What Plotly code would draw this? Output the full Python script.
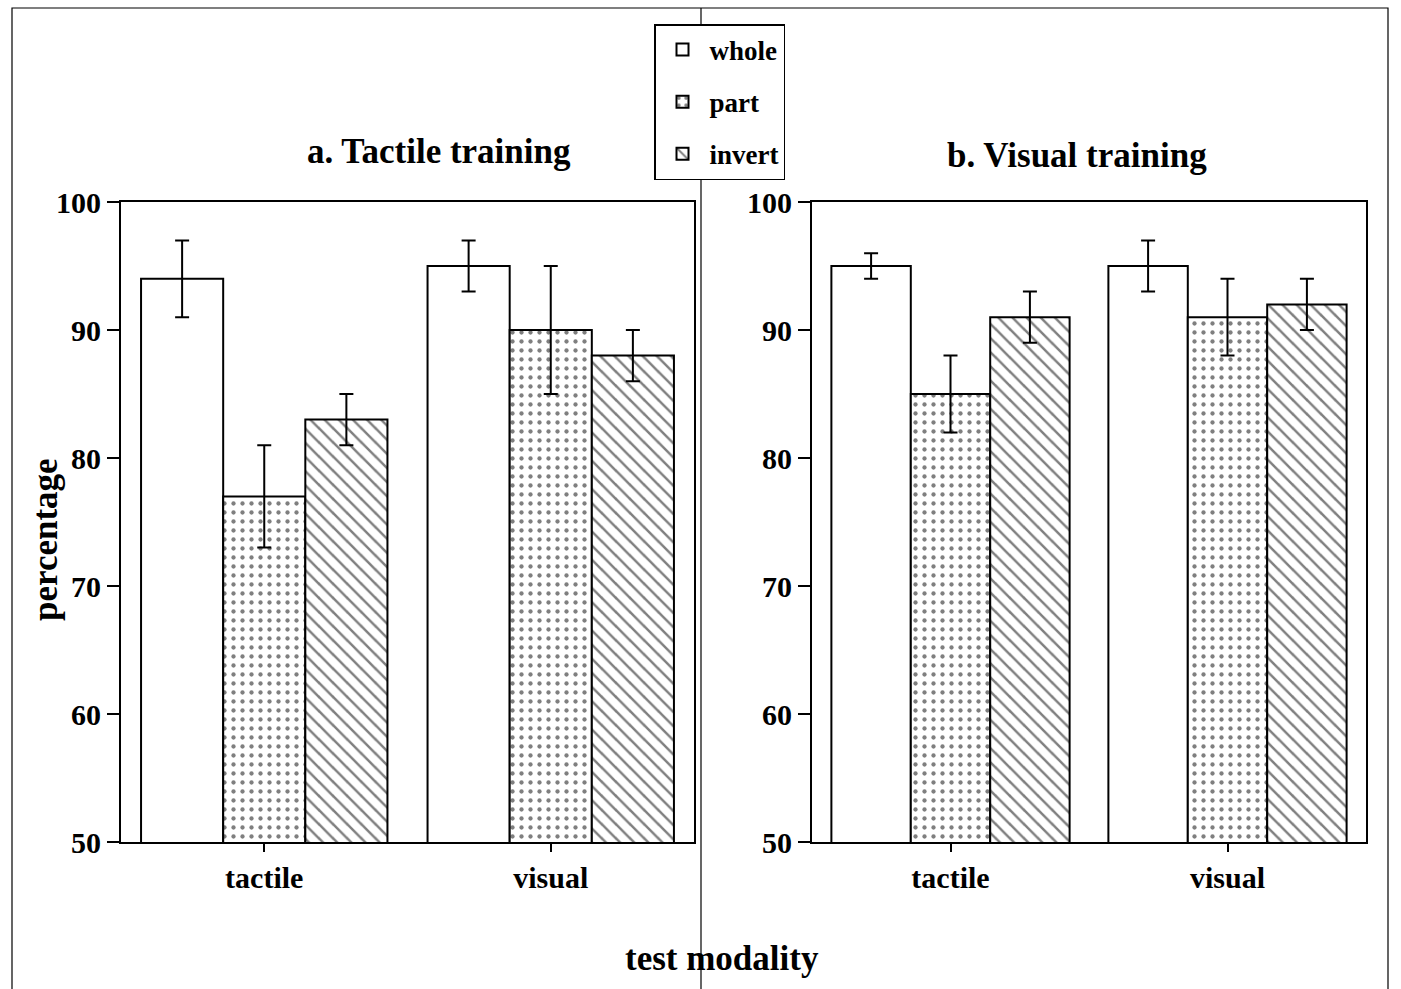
import plotly.graph_objects as go
from plotly.subplots import make_subplots

categories = ["tactile", "visual"]
conditions = ["whole", "part", "invert"]

# a. Tactile training
tactile_means = {"whole": [94, 95], "part": [77, 90], "invert": [83, 88]}
tactile_errs = {"whole": [3, 2], "part": [4, 5], "invert": [2, 2]}
# b. Visual training
visual_means = {"whole": [95, 95], "part": [85, 91], "invert": [91, 92]}
visual_errs = {"whole": [1, 2], "part": [3, 3], "invert": [2, 2]}

titles = ["a. Tactile training", "b. Visual training"]
yticks = [50, 60, 70, 80, 90, 100]

FONT = "Liberation Serif, Times New Roman, serif"
patterns = {
    "whole": dict(shape=""),
    "part": dict(shape=".", size=9, solidity=0.18, fgcolor="black", bgcolor="white"),
    "invert": dict(shape="\\", size=10, solidity=0.25, fgcolor="black", bgcolor="white"),
}

fig = make_subplots(rows=1, cols=2)

for col, (means, errs) in enumerate([(tactile_means, tactile_errs), (visual_means, visual_errs)], start=1):
    for cond in conditions:
        fig.add_trace(go.Bar(
            x=categories, y=means[cond], name=cond,
            marker=dict(color="white", line=dict(color="black", width=2), pattern=patterns[cond]),
            error_y=dict(type="data", array=errs[cond], color="black", thickness=2, width=7),
            showlegend=(col == 1), legendgroup=cond,
        ), row=1, col=col)

W, H = 1401, 989
dom_x1 = [121 / W, 694 / W]
dom_x2 = [812 / W, 1366 / W]
dom_y = [1 - 842 / H, 1 - 202 / H]

axis_common = dict(showline=True, linecolor="black", linewidth=2, mirror=True,
                   ticks="outside", tickcolor="black", showgrid=False, zeroline=False,
                   automargin=False,
                   tickfont=dict(family=FONT, size=30, color="black", weight="bold"))

fig.update_layout(
    width=W, height=H, margin=dict(l=0, r=0, t=0, b=0, autoexpand=False),
    plot_bgcolor="white", paper_bgcolor="white",
    barmode="group", bargap=0.14, bargroupgap=0,
    font=dict(family=FONT, color="black"),
    xaxis=dict(domain=dom_x1, ticklen=8, tickwidth=2, **axis_common),
    xaxis2=dict(domain=dom_x2, ticklen=8, tickwidth=2, **axis_common),
    yaxis=dict(domain=dom_y, range=[50, 100], tickvals=yticks, ticklen=12, tickwidth=2, **axis_common),
    yaxis2=dict(domain=dom_y, range=[50, 100], tickvals=yticks, ticklen=12, tickwidth=2, **axis_common),
    legend=dict(x=654 / W, y=1 - 24 / H, xanchor="left", yanchor="top",
                bordercolor="black", borderwidth=1.5, bgcolor="white",
                font=dict(family=FONT, size=27, color="black", weight="bold"),
                tracegroupgap=14, itemwidth=44, traceorder="grouped"),
)

ann_font = dict(family=FONT, size=35, color="black", weight="bold")
fig.add_annotation(text="percentage", x=45 / W, y=1 - 540 / H, xref="paper", yref="paper",
                   xanchor="center", yanchor="middle", textangle=-90, showarrow=False, font=ann_font)
fig.add_annotation(text="test modality", x=722 / W, y=1 - 958 / H, xref="paper", yref="paper",
                   xanchor="center", yanchor="middle", showarrow=False, font=ann_font)
fig.add_annotation(text=titles[0], x=439 / W, y=1 - 152 / H, xref="paper", yref="paper",
                   xanchor="center", yanchor="middle", showarrow=False, font=ann_font)
fig.add_annotation(text=titles[1], x=1077 / W, y=1 - 155 / H, xref="paper", yref="paper",
                   xanchor="center", yanchor="middle", showarrow=False, font=ann_font)

# outer frame and divider
fig.add_shape(type="rect", xref="paper", yref="paper", x0=12 / W, x1=1388 / W,
              y0=-0.02, y1=1 - 8 / H, line=dict(color="black", width=1.2), layer="below")
fig.add_shape(type="line", xref="paper", yref="paper", x0=701 / W, x1=701 / W,
              y0=-0.02, y1=1 - 8 / H, line=dict(color="black", width=1.2), layer="above")

fig.write_html("out.html", config={"displayModeBar": False},
               post_script="document.body.style.margin='0';")
